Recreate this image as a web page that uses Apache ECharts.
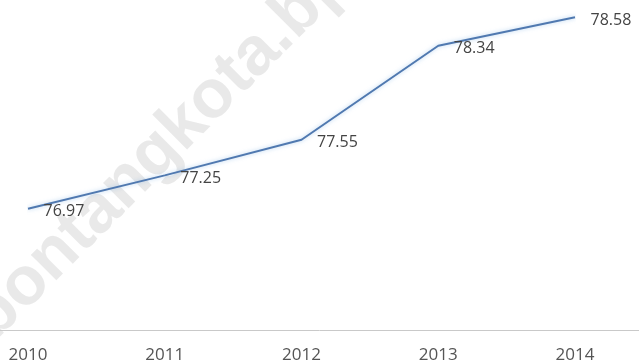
<!DOCTYPE html>
<html>
<head>
<meta charset="utf-8">
<script src="https://cdn.jsdelivr.net/npm/echarts@6/dist/echarts.min.js"></script>
<style>html,body{margin:0;padding:0;background:#fff}#c{width:639px;height:364px}</style>
</head>
<body>
<div id="c"></div>
<script>
const categories = ['2010', '2011', '2012', '2013', '2014'];
const values = [76.97, 77.25, 77.55, 78.34, 78.58];
const watermarkText = 'bontangkota.bps.go.id';

const chart = echarts.init(document.getElementById('c'), null, {renderer: 'canvas'});
chart.setOption({
  animation: false,
  backgroundColor: '#ffffff',
  grid: [
    {left: 28, right: 64, top: 0, bottom: 34, containLabel: false},
    {left: 0, right: 0, top: 0, bottom: 34, containLabel: false}
  ],
  graphic: [{
    type: 'text',
    x: -19, y: 329,
    rotation: Math.PI / 4,
    z: -10,
    silent: true,
    style: {
      text: watermarkText,
      font: 'bold 68px "Liberation Sans", Arial, sans-serif',
      fill: 'rgba(200,200,200,0.40)',
      align: 'left',
      verticalAlign: 'middle'
    }
  }],
  xAxis: [{
    type: 'category',
    gridIndex: 0,
    data: categories,
    boundaryGap: false,
    axisLine: {show: false},
    axisTick: {show: false},
    axisLabel: {color: '#555555', fontSize: 17, margin: 23, fontFamily: '"Open Sans", sans-serif'},
    splitLine: {show: false}
  }, {
    type: 'category',
    gridIndex: 1,
    data: [''],
    axisLine: {lineStyle: {color: '#c9c9c9', width: 1}},
    axisTick: {show: false},
    axisLabel: {show: false},
    splitLine: {show: false}
  }],
  yAxis: [{
    type: 'value',
    gridIndex: 0,
    min: 76, max: 78.725,
    show: false,
    splitLine: {show: false}
  }, {
    type: 'value',
    gridIndex: 1,
    show: false
  }],
  series: [{
    type: 'line',
    data: values,
    symbol: 'circle',
    symbolSize: 1,
    showSymbol: true,
    itemStyle: {color: 'rgba(0,0,0,0)', borderWidth: 0},
    z: 3,
    lineStyle: {color: '#5079b0', width: 2, shadowBlur: 4, shadowColor: 'rgba(130,180,230,0.6)'},
    label: {
      show: true,
      position: 'right',
      distance: 15,
      offset: [0, 3],
      color: '#444444',
      fontSize: 16,
      fontFamily: '"Open Sans", sans-serif',
      formatter: p => p.value.toFixed(2)
    }
  }]
});
</script>
</body>
</html>
